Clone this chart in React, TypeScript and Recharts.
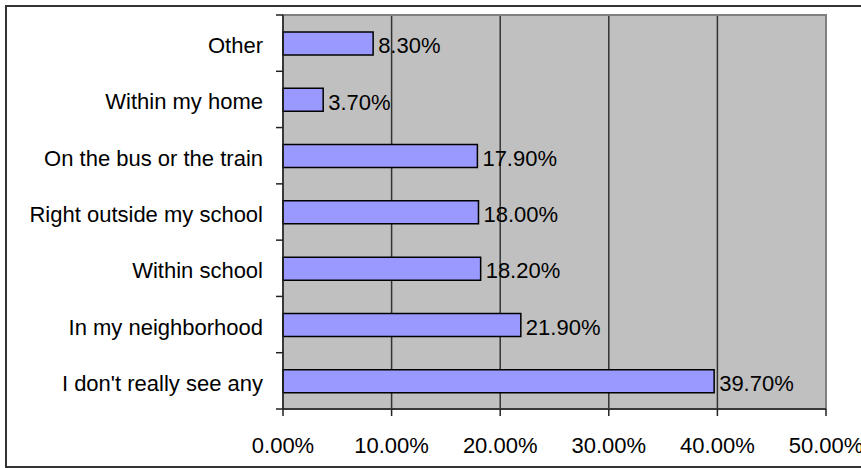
import React from 'react';
import {
  BarChart,
  Bar,
  XAxis,
  YAxis,
  CartesianGrid,
  ReferenceArea,
  LabelList,
} from 'recharts';

const categories = [
  'Other',
  'Within my home',
  'On the bus or the train',
  'Right outside my school',
  'Within school',
  'In my neighborhood',
  "I don't really see any",
];
const percentages = [8.3, 3.7, 17.9, 18.0, 18.2, 21.9, 39.7];
const xTicks = [0, 10, 20, 30, 40, 50];

const data = categories.map((name, i) => ({ name, value: percentages[i] }));

const pct = (v: number) => `${Number(v).toFixed(2)}%`;

// category tick: label at band centre, tick marks on band boundaries (Excel style)
function CategoryTick(props: any) {
  const { x, y, payload, index } = props;
  const half = payload && payload.offset ? payload.offset : 28;
  const lx = x + 13;
  return (
    <g>
      <line x1={lx} x2={lx + 7} y1={y - half} y2={y - half} stroke="#222" strokeWidth={1.5} />
      {index === categories.length - 1 && (
        <line x1={lx} x2={lx + 7} y1={y + half} y2={y + half} stroke="#222" strokeWidth={1.5} />
      )}
      <text x={x} y={y} dy={10} textAnchor="end" fill="#000" fontSize={22}>
        {payload.value}
      </text>
    </g>
  );
}

export default function App() {
  return (
    <div
      style={{
        position: 'fixed',
        left: 0,
        top: 0,
        width: 861,
        height: 468,
        overflow: 'hidden',
        background: '#fff',
        fontFamily: "Arial, 'Liberation Sans', sans-serif",
      }}
    >
      <div
        style={{
          position: 'absolute',
          left: 5,
          top: 5,
          width: 900,
          height: 463,
          border: '2px solid #333',
          boxSizing: 'border-box',
        }}
      />
      <div style={{ position: 'absolute', left: 0, top: 0 }}>
        <BarChart
          width={861}
          height={468}
          layout="vertical"
          data={data}
          margin={{ top: 15, right: 35, bottom: 0, left: 0 }}
        >
          <CartesianGrid
            horizontal={false}
            stroke="#333"
            strokeWidth={1.5}
            fill="#C0C0C0"
            fillOpacity={1}
          />
          <ReferenceArea x1={0} x2={50} fill="none" stroke="#808080" strokeWidth={2} />
          <XAxis
            type="number"
            domain={[0, 50]}
            ticks={xTicks}
            tickFormatter={pct}
            height={59}
            tickSize={7}
            tickMargin={21}
            stroke="#222"
            strokeWidth={1.5}
            tick={{ fill: '#000', fontSize: 22 }}
          />
          <YAxis
            type="category"
            dataKey="name"
            width={283}
            interval={0}
            tickLine={false}
            tickSize={7}
            tickMargin={13}
            stroke="#222"
            strokeWidth={1.5}
            tick={<CategoryTick />}
          />
          <Bar
            dataKey="value"
            fill="#9999FF"
            stroke="#000"
            strokeWidth={1.5}
            barSize={23}
            isAnimationActive={false}
          >
            <LabelList
              dataKey="value"
              position="right"
              offset={5}
              formatter={pct}
              fill="#000"
              fontSize={22}
              dy={2}
            />
          </Bar>
        </BarChart>
      </div>
    </div>
  );
}
